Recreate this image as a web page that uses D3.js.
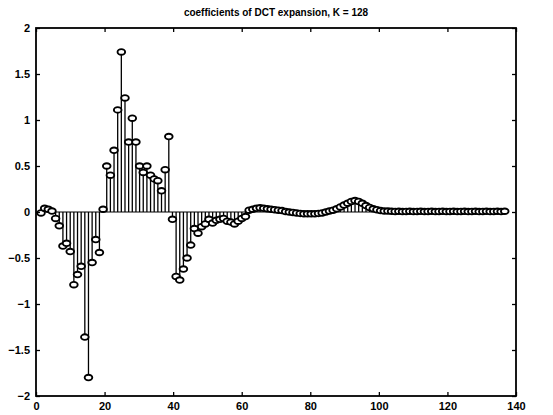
<!DOCTYPE html>
<html>
<head>
<meta charset="utf-8">
<script src="https://cdn.jsdelivr.net/npm/d3@7"></script>
<style>
  body { margin: 0; background: #fff; }
  text { font-family: "Liberation Sans", Arial, sans-serif; font-weight: bold; fill: #000; }
</style>
</head>
<body>
<svg id="chart" width="553" height="415"></svg>
<script>
// DCT coefficients, one per basis function (K = 128)
const coefficients = [
  -0.01, 0.04, 0.03, 0.01, -0.07, -0.15, -0.37, -0.34, -0.43, -0.79,
  -0.68, -0.59, -1.36, -1.80, -0.55, -0.30, -0.44, 0.03, 0.50, 0.40,
  0.67, 1.11, 1.74, 1.24, 0.76, 1.02, 0.76, 0.50, 0.43, 0.50,
  0.40, 0.36, 0.34, 0.23, 0.46, 0.82, -0.08, -0.70, -0.74, -0.62,
  -0.50, -0.36, -0.18, -0.23, -0.16, -0.13, -0.08, -0.12, -0.09, -0.08,
  -0.07, -0.10, -0.11, -0.13, -0.10, -0.07, -0.05, 0.02, 0.03, 0.04,
  0.045, 0.04, 0.035, 0.03, 0.025, 0.02, 0.015, 0.005, 0.0, -0.005,
  -0.01, -0.015, -0.02, -0.02, -0.02, -0.02, -0.015, -0.01, 0.0, 0.01,
  0.02, 0.035, 0.055, 0.075, 0.095, 0.115, 0.125, 0.115, 0.095, 0.07,
  0.05, 0.035, 0.025, 0.015, 0.01, 0.01, 0.008, 0.006, 0.008, 0.005,
  0.006, 0.008, 0.005, 0.006, 0.007, 0.005, 0.006, 0.008, 0.005, 0.006,
  0.007, 0.005, 0.006, 0.008, 0.005, 0.006, 0.007, 0.005, 0.006, 0.008,
  0.005, 0.006, 0.007, 0.005, 0.006, 0.008, 0.005, 0.008
];

const titleText = "coefficients of DCT expansion, K = 128";
const xTicks = [0, 20, 40, 60, 80, 100, 120, 140];
const yTicks = [-2, -1.5, -1, -0.5, 0, 0.5, 1, 1.5, 2];

// position of the first coefficient and spacing between coefficients, in axis units
const firstSample = 1.46;
const sampleSpacing = 1.065;

const svg = d3.select("#chart");
const box = { left: 36, right: 516, top: 28, bottom: 396 };

const x = d3.scaleLinear().domain([0, 140]).range([box.left, box.right]);
const y = d3.scaleLinear().domain([-2, 2]).range([box.bottom, box.top]);

const samples = coefficients.map((v, i) => ({ pos: firstSample + i * sampleSpacing, v }));

// baseline at zero
svg.append("line")
  .attr("x1", x(samples[0].pos)).attr("x2", x(samples[samples.length - 1].pos))
  .attr("y1", y(0)).attr("y2", y(0))
  .attr("stroke", "#000").attr("stroke-width", 1);

// stems
svg.append("g").selectAll("line").data(samples).join("line")
  .attr("x1", d => x(d.pos)).attr("x2", d => x(d.pos))
  .attr("y1", y(0)).attr("y2", d => y(d.v))
  .attr("stroke", "#000").attr("stroke-width", 1.3);

// markers
svg.append("g").selectAll("ellipse").data(samples).join("ellipse")
  .attr("cx", d => x(d.pos)).attr("cy", d => y(d.v))
  .attr("rx", 3.8).attr("ry", 2.8)
  .attr("fill", "#fff").attr("stroke", "#000").attr("stroke-width", 1.9);

// axes: ticks inside the box on all four sides
const tickLen = 4;
const axisStyle = g => {
  g.select(".domain").remove();
  g.selectAll(".tick line").attr("stroke", "#000").attr("stroke-width", 1.3);
  g.selectAll(".tick text").style("font-size", "11px");
};

svg.append("g")
  .attr("transform", `translate(0,${box.bottom})`)
  .call(d3.axisBottom(x).tickValues(xTicks).tickSize(-tickLen).tickPadding(6).tickFormat(d3.format("d")))
  .call(axisStyle);

svg.append("g")
  .attr("transform", `translate(0,${box.top})`)
  .call(d3.axisTop(x).tickValues(xTicks).tickSize(-tickLen).tickFormat(""))
  .call(axisStyle);

svg.append("g")
  .attr("transform", `translate(${box.left},0)`)
  .call(d3.axisLeft(y).tickValues(yTicks).tickSize(-tickLen).tickPadding(6)
    .tickFormat(d => d3.format("")(d).replace("-", "\u2212")))
  .call(axisStyle);

svg.append("g")
  .attr("transform", `translate(${box.right},0)`)
  .call(d3.axisRight(y).tickValues(yTicks).tickSize(-tickLen).tickFormat(""))
  .call(axisStyle);

// frame
svg.append("rect")
  .attr("x", box.left).attr("y", box.top)
  .attr("width", box.right - box.left).attr("height", box.bottom - box.top)
  .attr("fill", "none").attr("stroke", "#000").attr("stroke-width", 1.8);

svg.append("text")
  .attr("x", (box.left + box.right) / 2).attr("y", 16)
  .attr("text-anchor", "middle")
  .style("font-size", "10px")
  .text(titleText);
</script>
</body>
</html>
